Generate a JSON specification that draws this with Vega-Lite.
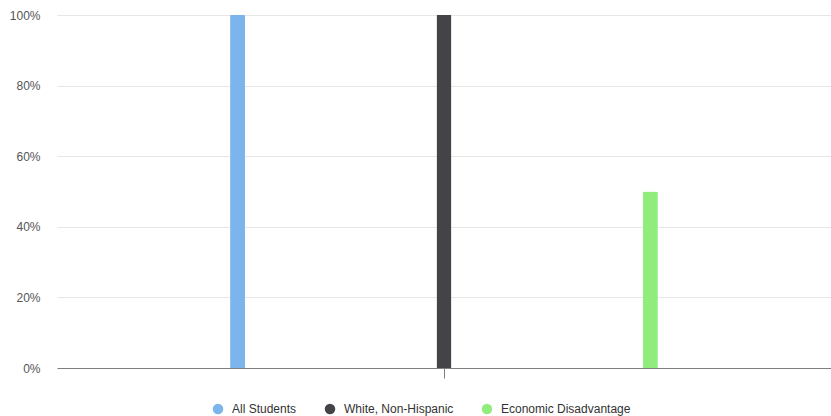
{
  "$schema": "https://vega.github.io/schema/vega-lite/v6.json",
  "autosize": "none",
  "width": 774,
  "height": 353,
  "padding": {"left": 57, "top": 15, "right": 0, "bottom": 48},
  "background": "white",
  "config": {"view": {"stroke": null}, "font": "Liberation Sans"},
  "data": {"values": [
    {"cat": "", "group": "All Students", "value": 1.0},
    {"cat": "", "group": "White, Non-Hispanic", "value": 1.0},
    {"cat": "", "group": "Economic Disadvantage", "value": 0.5}
  ]},
  "mark": {"type": "bar", "width": 15, "cornerRadius": 1},
  "encoding": {
    "x": {"field": "cat", "type": "nominal", "scale": {"paddingInner": 0, "paddingOuter": 0},
      "axis": {"title": null, "labels": false, "domainColor": "#7f7f7f", "tickColor": "#7f7f7f", "tickSize": 10, "grid": false}},
    "xOffset": {"field": "group", "type": "nominal", "sort": ["All Students", "White, Non-Hispanic", "Economic Disadvantage"],
      "scale": {"paddingInner": 0, "paddingOuter": 0.375}},
    "y": {"field": "value", "type": "quantitative", "scale": {"domain": [0, 1], "nice": false},
      "axis": {"title": null, "format": ".0%", "values": [0, 0.2, 0.4, 0.6, 0.8, 1], "domain": false, "ticks": false,
        "labelColor": "#555555", "labelFontSize": 12, "labelPadding": 17, "gridColor": "#e6e6e6"}},
    "color": {"field": "group", "type": "nominal", "sort": ["All Students", "White, Non-Hispanic", "Economic Disadvantage"],
      "scale": {"domain": ["All Students", "White, Non-Hispanic", "Economic Disadvantage"], "range": ["#7cb5ec", "#434348", "#90ed7d"]},
      "legend": {"title": null, "orient": "none", "legendX": 155, "legendY": 388, "direction": "horizontal",
        "symbolType": "circle", "symbolSize": 110, "symbolStrokeWidth": 0, "labelFontSize": 12, "labelColor": "#333333",
        "columnPadding": 27, "labelOffset": 8}}
  }
}
